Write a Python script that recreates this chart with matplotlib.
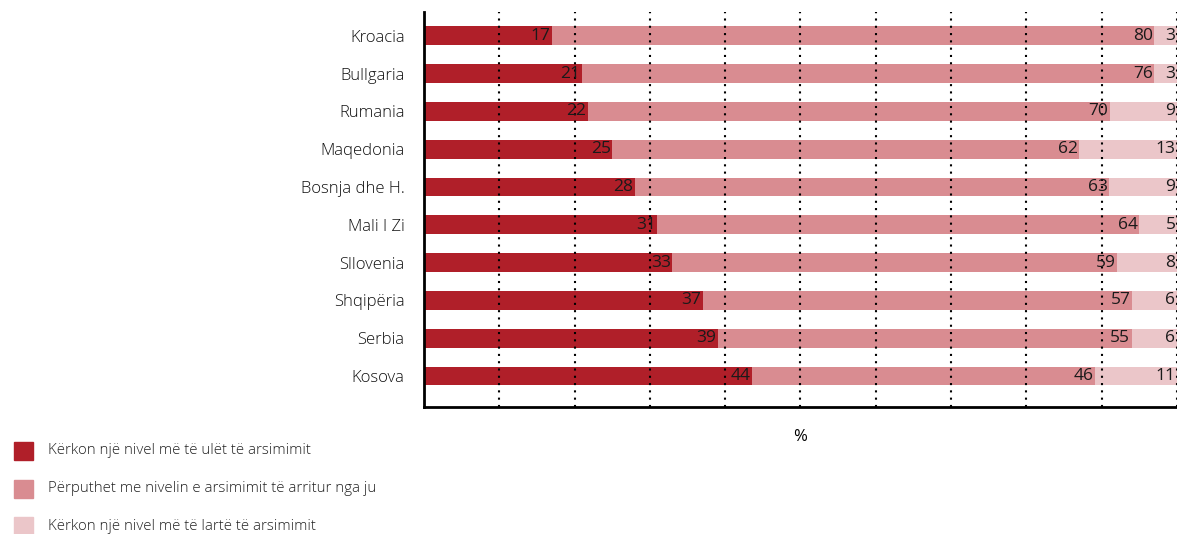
import matplotlib
matplotlib.use('Agg')
import matplotlib.pyplot as plt
from matplotlib.patches import Rectangle
import numpy as np

plt.rcParams['font.family'] = ['Open Sans', 'DejaVu Sans']
plt.rcParams['font.weight'] = 'light'

# Te dhenat
countries = ["Kroacia", "Bullgaria", "Rumania", "Maqedonia", "Bosnja dhe H.",
             "Mali I Zi", "Sllovenia", "Shqipëria", "Serbia", "Kosova"]
lower = [17, 21, 22, 25, 28, 31, 33, 37, 39, 44]
match = [80, 76, 70, 62, 63, 64, 59, 57, 55, 46]
higher = [3, 3, 9, 13, 9, 5, 8, 6, 6, 11]
series_names = ["Kërkon një nivel më të ulët të arsimimit",
                "Përputhet me nivelin e arsimimit të arritur nga ju",
                "Kërkon një nivel më të lartë të arsimimit"]
colors = ["#B01F29", "#D98C91", "#EBC6C9"]

fig = plt.figure(figsize=(11.77, 5.34), dpi=100)
ax = fig.add_axes([0.3602, 0.2378, 0.6398, 0.7397])

y = np.arange(len(countries))
total = np.array(lower) + np.array(match) + np.array(higher)
left = np.zeros(len(countries))
for vals, col in zip([lower, match, higher], colors):
    vals = np.array(vals)
    share = vals / total * 100  # shiritat normalizohen ne 100%
    ax.barh(y, share, left=left, height=0.5, color=col, zorder=1)
    for yi, l, s, v in zip(y, left, share, vals):
        ax.text(l + s - 0.2, yi, str(v), ha="right", va="center",
                fontsize=12.5, fontweight="normal", color="#1a1a1a",
                zorder=3, clip_on=False)
    left = left + share

# Vijat e rrjetit
for gx in range(10, 101, 10):
    ax.axvline(gx, color="black", linestyle=(0, (1, 2.5)), linewidth=1.5, zorder=2)

ax.set_xlim(0, 100)
ax.set_ylim(9.82, -0.63)
ax.set_yticks(y)
ax.set_yticklabels(countries, fontsize=12, color="#111111")
ax.set_xticks([])
ax.tick_params(axis="y", length=0, pad=14)
for s in ["top", "right"]:
    ax.spines[s].set_visible(False)
ax.spines["left"].set_linewidth(2)
ax.spines["bottom"].set_linewidth(2)
ax.set_xlabel("%", fontsize=12, labelpad=16)

# Legjenda
leg_y = [451, 489, 526]
for name, col, py in zip(series_names, colors, leg_y):
    fig.patches.append(Rectangle((14 / 1177, (534 - py - 9) / 534), 19 / 1177, 18 / 534,
                                 transform=fig.transFigure, color=col))
    fig.text(48 / 1177, (534 - py) / 534, name, ha="left", va="center",
             fontsize=10.8, color="#222222")

plt.savefig("out.png", dpi=100)
plt.close()
